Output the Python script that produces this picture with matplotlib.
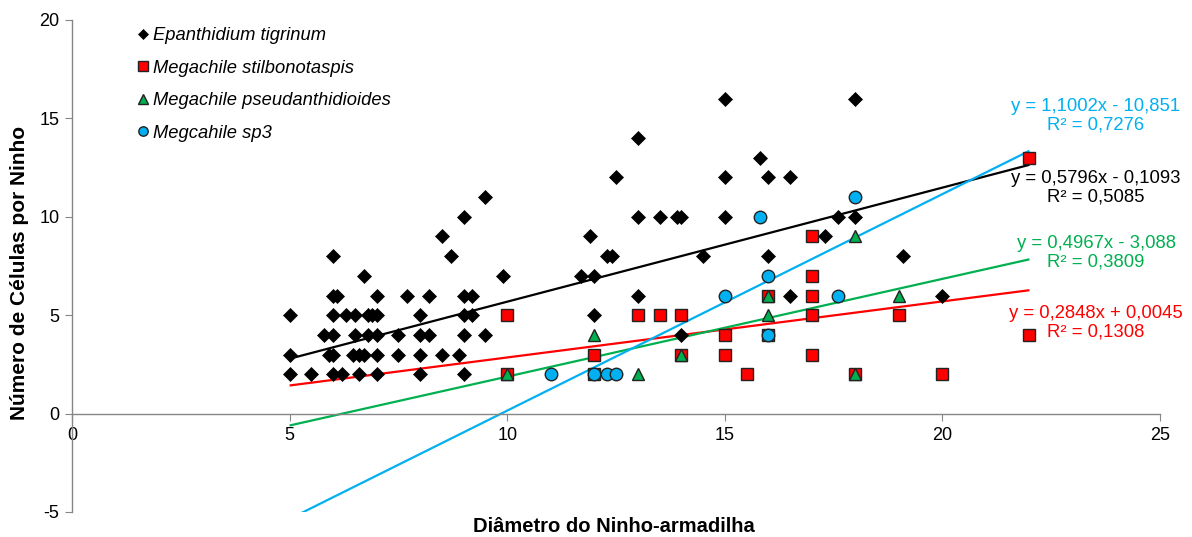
import matplotlib
matplotlib.use("Agg")
import matplotlib.pyplot as plt
import numpy as np

plt.rcParams['font.family'] = ['Liberation Sans', 'DejaVu Sans']
plt.rcParams['axes.unicode_minus'] = False

# Epanthidium tigrinum
et_x = [5, 5, 5, 5.5, 5.8, 5.9, 6, 6, 6, 6, 6, 6, 6.1, 6.2, 6.3, 6.45, 6.5, 6.5,
        6.6, 6.6, 6.7, 6.7, 6.8, 6.8, 6.9, 7, 7, 7, 7, 7, 7.5, 7.5, 7.7,
        8, 8, 8, 8, 8.2, 8.2, 8.5, 8.5, 8.7, 8.9, 9, 9, 9, 9, 9, 9.2, 9.2,
        9.5, 9.5, 9.9, 11.7, 11.9, 12, 12, 12.3, 12.4, 12.5, 13, 13, 13,
        13.5, 13.9, 14, 14, 14.5, 15, 15, 15, 15.8, 16, 16, 16.5, 16.5,
        17.3, 17.6, 18, 18, 19.1, 20]
et_y = [5, 3, 2, 2, 4, 3, 8, 6, 5, 4, 3, 2, 6, 2, 5, 3, 5, 4,
        3, 2, 7, 3, 5, 4, 5, 6, 5, 4, 3, 2, 4, 3, 6,
        5, 4, 3, 2, 6, 4, 9, 3, 8, 3, 10, 6, 5, 4, 2, 6, 5,
        11, 4, 7, 7, 9, 7, 5, 8, 8, 12, 14, 10, 6,
        10, 10, 10, 4, 8, 16, 12, 10, 13, 12, 8, 12, 6,
        9, 10, 16, 10, 8, 6]

# Megachile stilbonotaspis
ms_x = [10, 10, 12, 12, 13, 13.5, 14, 14, 15, 15, 15.5, 16, 16,
        17, 17, 17, 17, 17, 18, 19, 20, 22, 22]
ms_y = [5, 2, 3, 2, 5, 5, 5, 3, 4, 3, 2, 6, 4,
        9, 7, 6, 5, 3, 2, 5, 2, 13, 4]

# Megachile pseudanthidioides
mp_x = [10, 12, 13, 14, 16, 16, 18, 18, 19]
mp_y = [2, 4, 2, 3, 6, 5, 9, 2, 6]

# Megcahile sp3
mc_x = [11, 12, 12.3, 12.5, 15, 15.8, 16, 16, 17.6, 18]
mc_y = [2, 2, 2, 2, 6, 10, 7, 4, 6, 11]

# Linear trend lines: slope, intercept, R²
fits = {
    'et': (0.5796, -0.1093, 0.5085),
    'ms': (0.2848, 0.0045, 0.1308),
    'mp': (0.4967, -3.088, 0.3809),
    'mc': (1.1002, -10.851, 0.7276),
}

C_BLACK = '#000000'
C_RED = '#FF0000'
C_GREEN = '#00B050'
C_BLUE = '#00B0F0'
AXIS_GRAY = '#868686'

fig = plt.figure(figsize=(11.92, 5.37), dpi=100)
ax = fig.add_axes([72 / 1192, 1 - 512 / 537, (1160 - 72) / 1192, (512 - 20) / 537])

ax.set_xlim(0, 25)
ax.set_ylim(-5, 20)

# Trend lines over the range of the data
xx = np.array([5.0, 22.0])
line_cols = {'et': C_BLACK, 'ms': C_RED, 'mp': C_GREEN, 'mc': C_BLUE}
for key in ['et', 'ms', 'mp', 'mc']:
    m, b, _ = fits[key]
    ax.plot(xx, m * xx + b, color=line_cols[key], lw=1.6, zorder=2,
            solid_capstyle='butt')

# Scatter series
ax.plot(et_x, et_y, ls='none', marker='D', ms=7, mfc=C_BLACK, mec=C_BLACK,
        mew=0.5, zorder=3, label='Epanthidium tigrinum')
ax.plot(ms_x, ms_y, ls='none', marker='s', ms=9, mfc=C_RED, mec='#222222',
        mew=1.0, zorder=4, label='Megachile stilbonotaspis')
ax.plot(mp_x, mp_y, ls='none', marker='^', ms=9, mfc=C_GREEN, mec='#222222',
        mew=1.0, zorder=5, label='Megachile pseudanthidioides')
ax.plot(mc_x, mc_y, ls='none', marker='o', ms=9, mfc=C_BLUE, mec='#222222',
        mew=1.0, zorder=6, label='Megcahile sp3')

# Axes styling: y-axis at left, x-axis crossing at zero
for s in ['top', 'right']:
    ax.spines[s].set_visible(False)
ax.spines['bottom'].set_position(('data', 0))
ax.spines['bottom'].set_color(AXIS_GRAY)
ax.spines['left'].set_color(AXIS_GRAY)
ax.spines['bottom'].set_linewidth(1.0)
ax.spines['left'].set_linewidth(1.0)

ax.set_xticks([0, 5, 10, 15, 20, 25])
ax.set_yticks([-5, 0, 5, 10, 15, 20])
ax.tick_params(axis='x', direction='out', length=5, color=AXIS_GRAY,
               labelsize=13, pad=5)
ax.tick_params(axis='y', direction='out', length=5, color=AXIS_GRAY,
               labelsize=13, pad=4)

fig.text(614 / 1192, 1 - 527 / 537, 'Diâmetro do Ninho-armadilha',
         ha='center', va='center', fontsize=14.5, fontweight='bold')
fig.text(20 / 1192, 1 - 273 / 537, 'Número de Células por Ninho',
         ha='center', va='center', rotation=90, fontsize=15, fontweight='bold')

# Trend equations
def fmt(v, nd):
    return f"{v:.{nd}f}".replace('.', ',')

eq_pos = {
    'mc': (15.12, C_BLUE, 4, 3),
    'et': (11.46, C_BLACK, 4, 4),
    'mp': (8.16, C_GREEN, 4, 3),
    'ms': (4.60, C_RED, 4, 4),
}
for key, (yc, col, nd_m, nd_b) in eq_pos.items():
    m, b, r2 = fits[key]
    sign = '-' if b < 0 else '+'
    txt = f"y = {fmt(m, nd_m)}x {sign} {fmt(abs(b), nd_b)}\nR² = {fmt(r2, 4)}"
    ax.text(23.53, yc, txt, ha='center', va='center', multialignment='center',
            color=col, fontsize=13.3, linespacing=1.14, clip_on=False)

leg = ax.legend(loc='upper left', bbox_to_anchor=(137 / 1192, 1 - 27 / 537),
                bbox_transform=fig.transFigure, frameon=False,
                prop={'style': 'italic', 'size': 13.2}, handlelength=0.6,
                handletextpad=0.27, labelspacing=0.85, markerscale=0.75,
                borderpad=0, borderaxespad=0)

fig.savefig('out.png', dpi=100)
